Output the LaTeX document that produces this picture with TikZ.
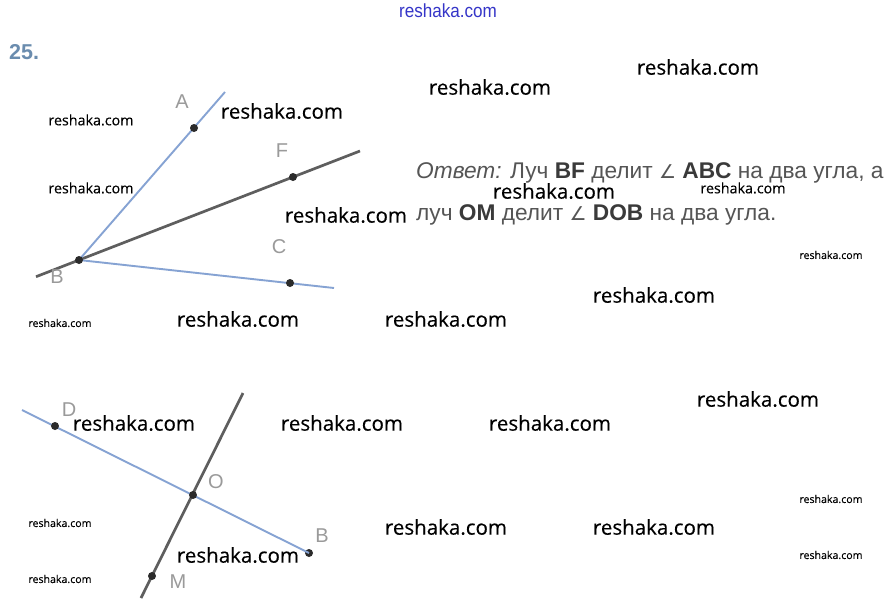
\documentclass[tikz,border=0pt]{standalone}
\usepackage{fontspec}
\setmainfont{Liberation Sans}
\newfontfamily\wmfont[FakeBold=0.25]{Open Sans}
\newfontfamily\narrowfont[FakeStretch=0.9]{Liberation Sans}
\newfontfamily\symfont{DejaVu Sans}
\definecolor{rayblue}{HTML}{86A3D3}
\definecolor{raygray}{HTML}{5E5E5E}
\definecolor{dotc}{HTML}{2B2B2B}
\definecolor{lblc}{HTML}{9A9A9A}
\definecolor{anstxt}{HTML}{555555}
\definecolor{ansbold}{HTML}{3A3A3A}
\definecolor{numc}{HTML}{6A8CAE}
\definecolor{topblue}{HTML}{3535C8}
\tikzset{
  wmbig/.style={inner sep=0, font=\wmfont\fontsize{20.5}{24}\selectfont, text=black},
  wmsmall/.style={inner sep=0, font=\wmfont\fontsize{14.3}{17}\selectfont, text=black},
  wmtiny/.style={inner sep=0, font=\wmfont\fontsize{10.6}{13}\selectfont, text=black},
  blueray/.style={draw=rayblue, line width=1.9pt},
  grayray/.style={draw=raygray, line width=2.7pt},
  ptdot/.style={circle, fill=dotc, inner sep=0, minimum size=8pt},
  ptlbl/.style={inner sep=0, text=lblc, font=\fontsize{20}{24}\selectfont},
  anst/.style={inner sep=0, anchor=base west, text=anstxt, font=\fontsize{22.7}{27}\selectfont}
}
\begin{document}
\begin{tikzpicture}[x=1pt,y=-1pt]
\useasboundingbox[fill=white] (0,0) rectangle (894,614);
% header
\node[inner sep=0, text=topblue, font=\narrowfont\fontsize{19}{22}\selectfont] (top) at (448,11) {reshaka.com};
\node[inner sep=0, anchor=west, text=numc, font=\bfseries\fontsize{21.5}{25}\selectfont] (num) at (9,52) {25.};
% figure 1
\coordinate (B1) at (79,260);
\coordinate (Aend) at (225,92);
\coordinate (Fend) at (360,151);
\coordinate (Fstart) at (36,276.7);
\coordinate (Cend) at (334,288);
\draw[grayray] (Fstart) -- (Fend);
\draw[blueray] (B1) -- (Aend);
\draw[blueray] (B1) -- (Cend);
\node[ptdot] (A) at (194,128) {};
\node[ptdot] (F) at (293,177) {};
\node[ptdot] (C) at (290,283) {};
\node[ptdot] (B) at (79,260) {};
\node[ptlbl] (lA) at (182,102) {A};
\node[ptlbl] (lF) at (282,151) {F};
\node[ptlbl] (lC) at (279,247) {C};
\node[ptlbl] (lB) at (57,277) {B};
% figure 2
\coordinate (Dstart) at (22,410);
\coordinate (Mtop) at (243,393);
\coordinate (Mbot) at (141,598);
\node[ptdot] (B2) at (309,553) {};
\draw[blueray] (Dstart) -- (B2.center);
\draw[grayray] (Mtop) -- (Mbot);
\node[ptdot] (D) at (55,426) {};
\node[ptdot] (O) at (193,495) {};
\node[ptdot] (M) at (152,576) {};
\node[ptlbl] (lD) at (69,410) {D};
\node[ptlbl] (lO) at (216,482) {O};
\node[ptlbl] (lB2) at (322,536) {B};
\node[ptlbl] (lM) at (178,582) {M};
% answer
\node[anst] (ans1) at (416,178) {\textit{Ответ:} Луч \textcolor{ansbold}{\textbf{BF}} делит {\symfont\fontsize{19}{22}\selectfont ∠} \textcolor{ansbold}{\textbf{ABC}} на два угла, а};
\node[anst] (ans2) at (416,220) {луч \textcolor{ansbold}{\textbf{OM}} делит {\symfont\fontsize{19}{22}\selectfont ∠} \textcolor{ansbold}{\textbf{DOB}} на два угла.};
% watermarks
\node[wmbig] (w1) at (490,87) {reshaka.com};
\node[wmbig] (w2) at (698,67) {reshaka.com};
\node[wmbig] (w3) at (282,111) {reshaka.com};
\node[wmsmall] (w4) at (91,120) {reshaka.com};
\node[wmsmall] (w5) at (91,188) {reshaka.com};
\node[wmbig] (w6) at (346,215) {reshaka.com};
\node[wmbig] (w7) at (554,191) {reshaka.com};
\node[wmsmall] (w8) at (743,188) {reshaka.com};
\node[wmtiny] (w9) at (831,255) {reshaka.com};
\node[wmbig] (w10) at (654,295) {reshaka.com};
\node[wmbig] (w11) at (238,319) {reshaka.com};
\node[wmbig] (w12) at (446,319) {reshaka.com};
\node[wmtiny] (w13) at (60,323) {reshaka.com};
\node[wmbig] (w14) at (758,399) {reshaka.com};
\node[wmbig] (w15) at (134,423) {reshaka.com};
\node[wmbig] (w16) at (342,423) {reshaka.com};
\node[wmbig] (w17) at (550,423) {reshaka.com};
\node[wmtiny] (w18) at (831,499) {reshaka.com};
\node[wmtiny] (w19) at (60,523) {reshaka.com};
\node[wmbig] (w20) at (446,527) {reshaka.com};
\node[wmbig] (w21) at (654,527) {reshaka.com};
\node[wmbig] (w22) at (238,555) {reshaka.com};
\node[wmtiny] (w23) at (831,555) {reshaka.com};
\node[wmtiny] (w24) at (60,579) {reshaka.com};
\end{tikzpicture}
\end{document}
